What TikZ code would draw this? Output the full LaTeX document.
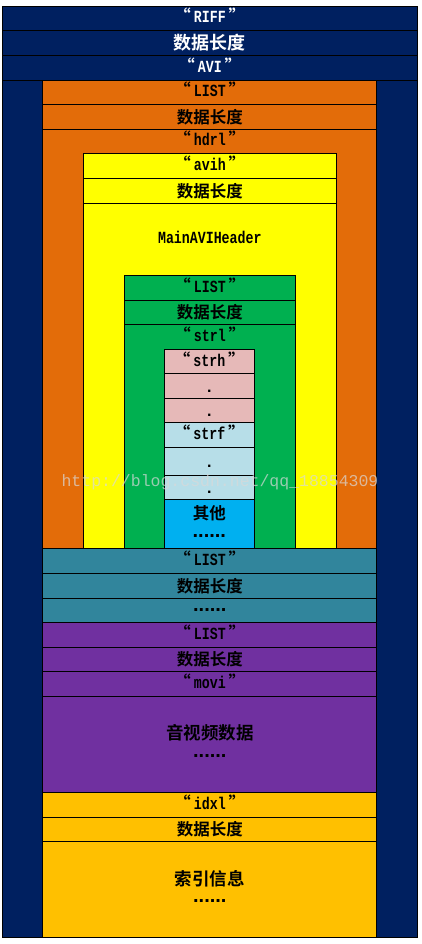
\documentclass[tikz,border=0pt]{standalone}
\usepackage{fontspec}
\setmainfont{Liberation Mono}[FakeStretch=0.78]
\newfontfamily\cjk{Noto Sans CJK SC}[BoldFont={Noto Sans CJK SC Bold}]
\newfontfamily\dotfont{Liberation Sans}
\newfontfamily\markfont{Liberation Mono}

\definecolor{riffblue}{HTML}{002060}
\definecolor{hdrlorange}{HTML}{E36C09}
\definecolor{avihyellow}{HTML}{FFFF00}
\definecolor{strlgreen}{HTML}{00B050}
\definecolor{strhpink}{HTML}{E6B9B8}
\definecolor{strfblue}{HTML}{B7DEE8}
\definecolor{otherblue}{HTML}{00B0F0}
\definecolor{infoteal}{HTML}{31859C}
\definecolor{moviviolet}{HTML}{7030A0}
\definecolor{idxgold}{HTML}{FFC000}

\newcommand{\qt}[1]{{\cjk “}\kern3pt#1\kern3pt{\cjk ”}}

\begin{document}
\begin{tikzpicture}[x=1pt,y=-1pt,
  frame/.style={draw=black,line width=0.8pt},
  en/.style={font=\bfseries\fontsize{17}{19}\selectfont,text height=11pt,text depth=2pt,inner sep=0pt},
  cn/.style={font=\cjk\bfseries\fontsize{16.5}{18}\selectfont,inner sep=0pt},
  dots/.style={font=\dotfont\bfseries\fontsize{20}{22}\selectfont,inner sep=0pt,text height=8pt,text depth=0pt}]
\useasboundingbox[fill=white] (0,0) rectangle (421,944);

% RIFF
\filldraw[frame,fill=riffblue] (2.3,6) rectangle (417.3,937.3);
\draw[frame] (2.3,30.7) -- (417.3,30.7);
\draw[frame] (2.3,55.3) -- (417.3,55.3);
\draw[frame] (2.3,80.3) -- (417.3,80.3);
\node[en,text=white] (riff) at (209.8,18.3) {\qt{RIFF}};
\node[cn,text=white,font=\cjk\bfseries\fontsize{18}{20}\selectfont] (riffsize) at (209.8,43) {数据长度};
\node[en,text=white] (avi) at (209.8,67.8) {\qt{AVI}};

% LIST hdrl
\filldraw[frame,fill=hdrlorange] (42.7,80.3) rectangle (376.3,548.3);
\draw[frame] (42.7,104.3) -- (376.3,104.3);
\draw[frame] (42.7,129.3) -- (376.3,129.3);
\node[en] (hdrllist) at (209.8,92.3) {\qt{LIST}};
\node[cn] (hdrlsize) at (209.8,116.8) {数据长度};
\node[en] (hdrl) at (209.8,141.5) {\qt{hdrl}};

% avih
\filldraw[frame,fill=avihyellow] (83.3,153.7) rectangle (336.7,548.3);
\draw[frame] (83.3,178.3) -- (336.7,178.3);
\draw[frame] (83.3,203.3) -- (336.7,203.3);
\node[en] (avih) at (209.8,166) {\qt{avih}};
\node[cn] (avihsize) at (209.8,190.8) {数据长度};
\node[en] (mainhdr) at (209.8,239.2) {MainAVIHeader};

% LIST strl
\filldraw[frame,fill=strlgreen] (124.3,275) rectangle (295.7,548.3);
\draw[frame] (124.3,300) -- (295.7,300);
\draw[frame] (124.3,324.7) -- (295.7,324.7);
\node[en] (strllist) at (209.8,287.5) {\qt{LIST}};
\node[cn] (strlsize) at (209.8,312.3) {数据长度};
\node[en] (strl) at (209.8,337) {\qt{strl}};

% strh, strf, other
\filldraw[frame,fill=strhpink] (164.3,349.3) rectangle (254.3,422.3);
\draw[frame] (164.3,373.7) -- (254.3,373.7);
\draw[frame] (164.3,398.7) -- (254.3,398.7);
\filldraw[frame,fill=strfblue] (164.3,422.3) rectangle (254.3,499.3);
\draw[frame] (164.3,447.7) -- (254.3,447.7);
\draw[frame] (164.3,475) -- (254.3,475);
\filldraw[frame,fill=otherblue] (164.3,499.3) rectangle (254.3,548.3);
\node[en] (strh) at (209.3,361.5) {\qt{strh}};
\node[dots,font=\dotfont\bfseries\fontsize{16}{18}\selectfont] (strhdota) at (209.3,388) {.};
\node[dots,font=\dotfont\bfseries\fontsize{16}{18}\selectfont] (strhdotb) at (209.3,412.3) {.};
\node[en] (strf) at (209.3,435) {\qt{strf}};
\node[dots,font=\dotfont\bfseries\fontsize{16}{18}\selectfont] (strfdota) at (209.3,463) {.};
\node[dots,font=\dotfont\bfseries\fontsize{16}{18}\selectfont] (strfdotb) at (209.3,489) {.};
\node[cn] (other) at (209.3,513.3) {其他};
\node[dots] (otherdots) at (209.3,533) {......};

% LIST info
\filldraw[frame,fill=infoteal] (42.7,548.3) rectangle (376.3,622.3);
\draw[frame] (42.7,573.3) -- (376.3,573.3);
\draw[frame] (42.7,598.3) -- (376.3,598.3);
\node[en] (infolist) at (209.8,560.8) {\qt{LIST}};
\node[cn] (infosize) at (209.8,585.8) {数据长度};
\node[dots] (infodots) at (209.8,607) {......};

% LIST movi
\filldraw[frame,fill=moviviolet] (42.7,622.3) rectangle (376.3,792.3);
\draw[frame] (42.7,647.3) -- (376.3,647.3);
\draw[frame] (42.7,671.7) -- (376.3,671.7);
\draw[frame] (42.7,696.3) -- (376.3,696.3);
\node[en] (movilist) at (209.8,634.8) {\qt{LIST}};
\node[cn] (movisize) at (209.8,659.5) {数据长度};
\node[en] (movi) at (209.8,684) {\qt{movi}};
\node[cn,font=\cjk\bfseries\fontsize{17.5}{20}\selectfont] (movidata) at (209.8,732.7) {音视频数据};
\node[dots] (movidots) at (209.8,753) {......};

% idx1
\filldraw[frame,fill=idxgold] (42.7,792.3) rectangle (376.3,937.3);
\draw[frame] (42.7,817.3) -- (376.3,817.3);
\draw[frame] (42.7,841.3) -- (376.3,841.3);
\node[en] (idxl) at (209.8,804.8) {\qt{idxl}};
\node[cn] (idxsize) at (209.8,829.3) {数据长度};
\node[cn,font=\cjk\bfseries\fontsize{17.5}{20}\selectfont] (idxinfo) at (209.8,878.3) {索引信息};
\node[dots] (idxdots) at (209.8,898.3) {......};

% watermark
\node[font=\markfont\fontsize{16.5}{18}\selectfont,text=white!70!gray,opacity=.7,inner sep=0pt] (mark) at (220,482) {http://blog.csdn.net/qq\_18854309};
\end{tikzpicture}
\end{document}
